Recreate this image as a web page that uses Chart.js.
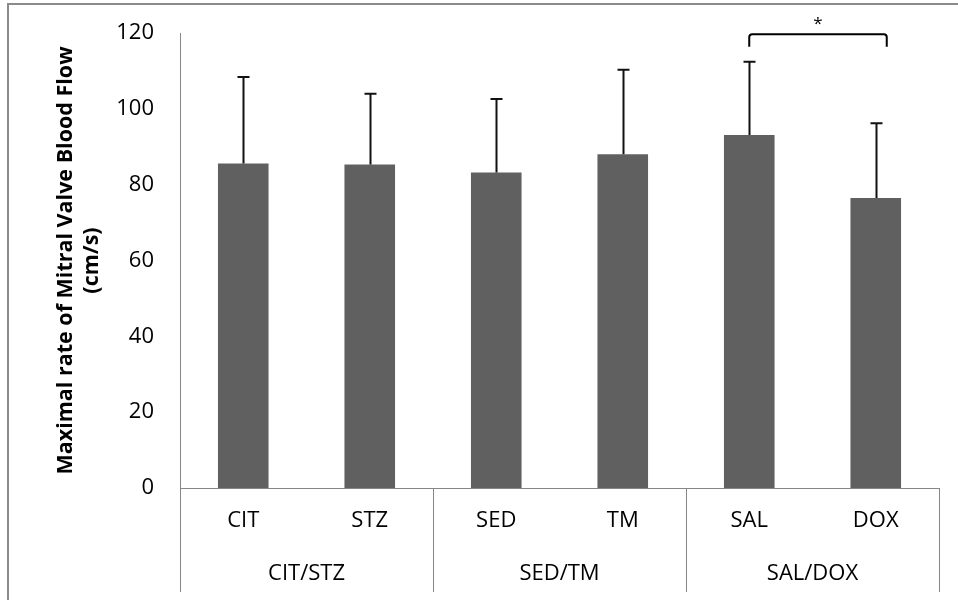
<!DOCTYPE html>
<html>
<head>
<meta charset="utf-8">
<script src="https://cdn.jsdelivr.net/npm/chart.js@4"></script>
<style>
  html, body { margin: 0; padding: 0; background: #ffffff; }
  #wrap { width: 958px; height: 600px; }
</style>
</head>
<body>
<div id="wrap"><canvas id="c" width="958" height="600"></canvas></div>
<script>
// ---- data ----
const categories = ['CIT', 'STZ', 'SED', 'TM', 'SAL', 'DOX'];
const groupLabels = ['CIT/STZ', 'SED/TM', 'SAL/DOX'];
const groupSizes = [2, 2, 2];
const means = [85.6, 85.3, 83.2, 88.0, 93.1, 76.5];
const sds = [22.8, 18.7, 19.4, 22.3, 19.3, 19.7];
const yMin = 0, yMax = 120, yStep = 20;
const yTitle = ['Maximal rate of Mitral Valve Blood Flow', '(cm/s)'];
const sigPair = ['SAL', 'DOX'];
const sigMark = '*';

const FONT = "'Open Sans', 'DejaVu Sans', sans-serif";
const AXIS_COLOR = '#868686';

const extrasPlugin = {
  id: 'extras',
  beforeDraw(chart) {
    const ctx = chart.ctx;
    ctx.save();
    ctx.fillStyle = '#ffffff';
    ctx.fillRect(0, 0, chart.width, chart.height);
    ctx.restore();
  },
  afterDatasetsDraw(chart) {
    const ctx = chart.ctx;
    const y = chart.scales.y;
    const meta = chart.getDatasetMeta(0);
    ctx.save();
    // error bars (plus only)
    ctx.strokeStyle = '#111111';
    ctx.lineWidth = 2;
    meta.data.forEach((bar, i) => {
      const x = Math.round(bar.x) + 0.5;
      const yTop = y.getPixelForValue(means[i] + sds[i]);
      const yBase = y.getPixelForValue(means[i]);
      ctx.beginPath();
      ctx.moveTo(x, yBase);
      ctx.lineTo(x, yTop);
      ctx.moveTo(x - 6, yTop);
      ctx.lineTo(x + 6, yTop);
      ctx.stroke();
    });
    // significance bracket
    const i1 = categories.indexOf(sigPair[0]);
    const i2 = categories.indexOf(sigPair[1]);
    const xa = meta.data[i1].x;
    const xb = meta.data[i2].x + 11;
    const yb = y.getPixelForValue(119.7);
    const ye = y.getPixelForValue(116.4);
    ctx.strokeStyle = '#000000';
    ctx.lineWidth = 2;
    ctx.lineJoin = 'round';
    ctx.beginPath();
    ctx.moveTo(xa, ye);
    ctx.lineTo(xa, yb + 3);
    ctx.quadraticCurveTo(xa, yb, xa + 3, yb);
    ctx.lineTo(xb - 3, yb);
    ctx.quadraticCurveTo(xb, yb, xb, yb + 3);
    ctx.lineTo(xb, ye);
    ctx.stroke();
    ctx.fillStyle = '#000000';
    ctx.font = "17px " + FONT;
    ctx.textAlign = 'center';
    ctx.textBaseline = 'middle';
    ctx.fillText(sigMark, (xa + xb) / 2, yb - 10);
    ctx.restore();
  },
  afterDraw(chart) {
    const ctx = chart.ctx;
    const xs = chart.scales.x;
    const area = chart.chartArea;
    const bottom = area.bottom + 104;
    ctx.save();
    ctx.strokeStyle = AXIS_COLOR;
    ctx.lineWidth = 1;
    // group boundaries
    const half = (xs.getPixelForValue(1) - xs.getPixelForValue(0)) / 2;
    let idx = 0;
    const bounds = [xs.getPixelForValue(0) - half];
    groupSizes.forEach(n => { idx += n; bounds.push(xs.getPixelForValue(idx - 1) + half); });
    ctx.beginPath();
    bounds.forEach(bx => {
      const px = Math.round(bx) + 0.5;
      ctx.moveTo(px, area.bottom);
      ctx.lineTo(px, bottom);
    });
    ctx.stroke();
    // group labels
    ctx.fillStyle = '#000000';
    ctx.font = "22px " + FONT;
    ctx.textAlign = 'center';
    ctx.textBaseline = 'middle';
    groupLabels.forEach((g, k) => {
      ctx.fillText(g, (bounds[k] + bounds[k + 1]) / 2, area.bottom + 86);
    });
    // outer frame
    ctx.strokeStyle = '#8a8a8a';
    ctx.lineWidth = 2;
    ctx.strokeRect(8, 4, chart.width + 10, chart.height + 10);
    ctx.restore();
  }
};

new Chart(document.getElementById('c'), {
  type: 'bar',
  data: {
    labels: categories,
    datasets: [{
      data: means,
      backgroundColor: '#606060',
      borderWidth: 0,
      barPercentage: 0.4,
      categoryPercentage: 1.0
    }]
  },
  options: {
    responsive: false,
    animation: false,
    devicePixelRatio: 1,
    layout: { padding: { top: 33, left: 7, right: 19, bottom: 0 } },
    plugins: {
      legend: { display: false },
      tooltip: { enabled: false },
      title: { display: false }
    },
    scales: {
      x: {
        grid: { display: false, drawTicks: false },
        border: { display: true, color: AXIS_COLOR, width: 1 },
        ticks: {
          color: '#000000',
          font: { family: FONT, size: 22 },
          padding: 20,
          maxRotation: 0,
          autoSkip: false
        },
        afterFit(s) { s.height = 112; }
      },
      y: {
        min: yMin,
        max: yMax,
        grid: { display: false, drawTicks: false },
        border: { display: true, color: AXIS_COLOR, width: 1 },
        ticks: {
          stepSize: yStep,
          color: '#000000',
          font: { family: FONT, size: 22 },
          padding: 26
        },
        title: {
          display: true,
          text: yTitle,
          color: '#000000',
          font: { family: FONT, size: 21.5, weight: 'bold' },
          padding: { top: 46, bottom: 0 }
        },
        afterFit(s) { s.width = 173; s.paddingTop = 0; s.paddingBottom = 0; }
      }
    }
  },
  plugins: [extrasPlugin]
});
</script>
</body>
</html>
